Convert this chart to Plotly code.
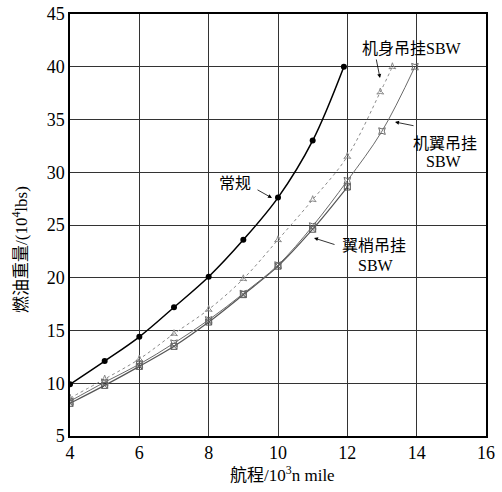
import plotly.graph_objects as go

# Data
conv_x = [4, 5, 6, 7, 8, 9, 10, 11, 11.9]
conv_y = [9.9, 12.1, 14.4, 17.2, 20.1, 23.6, 27.6, 33.0, 40.0]

fus_x = [4, 5, 6, 7, 8, 9, 10, 11, 12, 12.95, 13.3]
fus_y = [8.6, 10.4, 12.3, 14.7, 17.0, 19.9, 23.6, 27.4, 31.5, 37.6, 40.0]

wing_x = [4, 5, 6, 7, 8, 9, 10, 11, 12, 13, 13.95]
wing_y = [8.3, 10.1, 11.8, 13.8, 16.0, 18.5, 21.2, 24.9, 29.2, 33.9, 40.0]

tip_x = [4, 5, 6, 7, 8, 9, 10, 11, 12]
tip_y = [8.1, 9.8, 11.6, 13.5, 15.8, 18.4, 21.1, 24.6, 28.6]

x_ticks = [4, 6, 8, 10, 12, 14, 16]
y_ticks = [5, 10, 15, 20, 25, 30, 35, 40, 45]

serif = "Liberation Serif, Times New Roman, serif"
cjk = "Noto Sans CJK SC"
mixed = "Liberation Serif, " + cjk

fig = go.Figure()
fig.add_trace(go.Scatter(x=fus_x, y=fus_y, mode="lines+markers",
                         line=dict(color="#8a8a8a", width=1, dash="dot", shape="spline"),
                         marker=dict(symbol="star-triangle-up-open", size=5, color="#8a8a8a", line=dict(width=1))))
fig.add_trace(go.Scatter(x=tip_x, y=tip_y, mode="lines+markers",
                         line=dict(color="#555555", width=1.2, shape="spline"),
                         marker=dict(symbol="square-x-open", size=6, color="#555555", line=dict(width=1))))
fig.add_trace(go.Scatter(x=wing_x, y=wing_y, mode="lines+markers",
                         line=dict(color="#6a6a6a", width=1, shape="spline"),
                         marker=dict(symbol="star-square-open", size=6, color="#6a6a6a", line=dict(width=1))))
fig.add_trace(go.Scatter(x=conv_x, y=conv_y, mode="lines+markers",
                         line=dict(color="black", width=1.5, shape="spline"),
                         marker=dict(symbol="circle", size=6, color="black")))

# paper coords helpers: plot area in pixels left=70,right=486,top=14,bottom=436
L, R, T, B = 70, 486, 14, 436
def px(xp):
    return (xp - L) / (R - L)
def py(yp):
    return (B - yp) / (B - T)

def arrow(x0, y0, x1, y1):
    fig.add_annotation(x=px(x1), y=py(y1), ax=x0 - x1, ay=y0 - y1, xref="paper", yref="paper",
                       axref="pixel", ayref="pixel", text="", showarrow=True,
                       arrowhead=2, arrowsize=1, arrowwidth=0.8, arrowcolor="black")

def txt(text, xp, yp, size=16, angle=0):
    fig.add_annotation(x=px(xp), y=py(yp), xref="paper", yref="paper", text=text, showarrow=False,
                       font=dict(family=mixed, size=size, color="black"), textangle=angle,
                       xanchor="center", yanchor="middle")

txt("机身吊挂SBW", 412, 48)
arrow(376, 58, 380, 78)
txt("机翼吊挂", 445, 143)
txt("SBW", 444, 161)
arrow(415, 126, 395, 122)
txt("常规", 235, 183)
arrow(256, 189, 272, 198)
txt("翼梢吊挂", 374, 245)
txt("SBW", 376, 265)
arrow(336, 245, 314, 238)

# axis titles
txt("航程/10<sup>3</sup>n mile", 282, 474, size=17)
txt("燃油重量/(10<sup>4</sup>lbs)", 20, 250, size=17, angle=-90)

axis_common = dict(showgrid=True, gridcolor="#333333", gridwidth=1.2, showline=True,
                   linecolor="black", linewidth=1.5, mirror=True, ticks="", zeroline=False,
                   automargin=False,
                   tickfont=dict(family=serif, size=18, color="black"))

fig.update_layout(
    width=502, height=492,
    margin=dict(l=L, r=502 - R, t=T, b=492 - B, pad=0),
    plot_bgcolor="white", paper_bgcolor="white",
    showlegend=False,
    xaxis=dict(range=[4, 16], tickvals=x_ticks, **axis_common),
    yaxis=dict(range=[5, 45], tickvals=y_ticks, **axis_common),
)

fig.write_html("out.html", config={"displayModeBar": False},
               post_script="document.body.style.margin='0';document.body.style.overflow='hidden';")
